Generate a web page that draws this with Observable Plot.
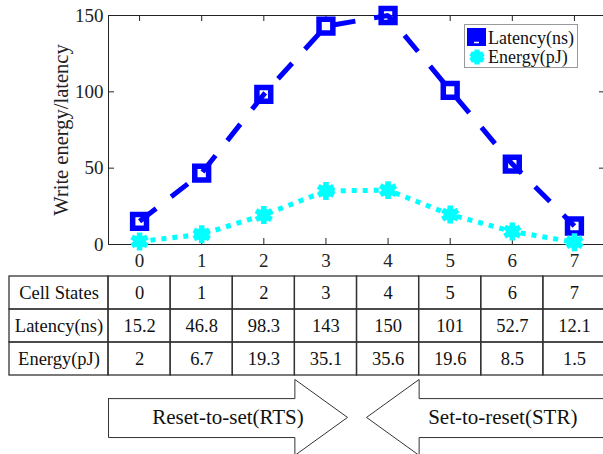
<!DOCTYPE html>
<html>
<head>
<meta charset="utf-8">
<script src="https://cdn.jsdelivr.net/npm/d3@7"></script>
<script src="https://cdn.jsdelivr.net/npm/@observablehq/plot@0.6"></script>
<style>
  html, body { margin: 0; padding: 0; background: white; overflow: hidden; }
  #wrap { position: relative; width: 603px; height: 454px; overflow: hidden; }
  #wrap svg { display: block; }
</style>
</head>
<body>
<div id="wrap">
  <div id="chart"></div>
  <div id="table"></div>
</div>
<script>
// ---- data ----
const states = [0, 1, 2, 3, 4, 5, 6, 7];
const latency = [15.2, 46.8, 98.3, 143, 150, 101, 52.7, 12.1];
const energy = [2, 6.7, 19.3, 35.1, 35.6, 19.6, 8.5, 1.5];
const yTicks = [0, 50, 100, 150];
const rowLabels = ["Cell States", "Latency(ns)", "Energy(pJ)"];
const seriesNames = ["Latency(ns)", "Energy(pJ)"];
const arrowLabels = ["Reset-to-set(RTS)", "Set-to-reset(STR)"];
const yLabel = "Write energy/latency";

const BLUE = "#0000ff";
const CYAN = "#00ffff";
const INK = "#222";
const FONT = "'Liberation Serif', 'Times New Roman', serif";

const latData = states.map((s, i) => ({state: s, value: latency[i]}));
const enData = states.map((s, i) => ({state: s, value: energy[i]}));

// ---- main chart ----
const W = 603, H = 270, mL = 108, mR = -2, mT = 15, mB = 26;
const plotW = W - mL - mR, plotH = H - mT - mB, tickLen = 6;

const chart = Plot.plot({
  width: W, height: H,
  marginLeft: mL, marginRight: mR, marginTop: mT, marginBottom: mB,
  x: {domain: [-0.5, 7.5]},
  y: {domain: [0, 150]},
  style: {fontFamily: FONT, fontSize: "19px", color: INK, background: "white"},
  marks: [
    Plot.frame({stroke: INK, strokeWidth: 1}),
    Plot.ruleX(states, {x: d => d, insetTop: plotH - tickLen, stroke: INK}),
    Plot.ruleX(states, {x: d => d, insetBottom: plotH - tickLen, stroke: INK}),
    Plot.ruleY(yTicks, {y: d => d, insetRight: plotW - tickLen, stroke: INK}),
    Plot.ruleY(yTicks, {y: d => d, insetLeft: plotW - tickLen, stroke: INK}),
    Plot.axisX(states, {tickSize: 0, tickPadding: 9, fontSize: 19, label: null, fill: INK}),
    Plot.axisY(yTicks, {tickSize: 0, tickPadding: 5, fontSize: 19, label: null, fill: INK}),
    Plot.text([yLabel], {frameAnchor: "left", textAnchor: "middle", dx: -47, rotate: -90, fontSize: 20.5, fill: INK}),
    Plot.line(latData, {x: "state", y: "value", stroke: BLUE, strokeWidth: 5, strokeDasharray: "21,19", strokeLinecap: "butt", strokeLinejoin: "miter"}),
    Plot.dot(latData, {x: "state", y: "value", symbol: "square", r: 7.8, stroke: BLUE, strokeWidth: 5.5, fill: "none"}),
    Plot.line(enData, {x: "state", y: "value", stroke: CYAN, strokeWidth: 5, strokeDasharray: "5,6", strokeLinecap: "butt", strokeLinejoin: "miter"}),
    Plot.dot(enData, {x: "state", y: "value", symbol: "asterisk", r: 8.5, stroke: CYAN, strokeWidth: 5.5}),
    Plot.dot(enData, {x: "state", y: "value", r: 6.5, fill: CYAN})
  ]
});
document.getElementById("chart").appendChild(chart);

// ---- legend (overlay) ----
const lg = d3.select("#wrap").append("svg")
  .attr("width", 115).attr("height", 45)
  .style("position", "absolute").style("left", "464px").style("top", "24px");
lg.append("rect").attr("x", 0.5).attr("y", 0.5).attr("width", 113).attr("height", 43)
  .attr("fill", "white").attr("stroke", "#999");
lg.append("rect").attr("x", 3).attr("y", 4).attr("width", 19).attr("height", 18).attr("fill", BLUE);
lg.append("line").attr("x1", 10).attr("x2", 15).attr("y1", 18.5).attr("y2", 18.5)
  .attr("stroke", "white").attr("stroke-width", 1.5);
lg.append("path").attr("transform", "translate(13,33)")
  .attr("d", d3.symbol(d3.symbolAsterisk, Math.PI * 7 * 7)())
  .attr("stroke", CYAN).attr("stroke-width", 5).attr("fill", "none");
lg.append("circle").attr("cx", 13).attr("cy", 33).attr("r", 6.5).attr("fill", CYAN);
seriesNames.forEach((name, i) => {
  lg.append("text").attr("x", 24).attr("y", 20 + i * 19)
    .attr("font-family", FONT).attr("font-size", 18).attr("fill", "#111").text(name);
});

// ---- table + arrows ----
const tableValues = [states.map(String), latency.map(String), energy.map(String)];
const labelLeft = -2.094;
const cells = [];
rowLabels.forEach((lab, r) => {
  cells.push({x1: labelLeft, x2: -0.5, r, text: lab});
  states.forEach((s, i) => cells.push({x1: s - 0.5, x2: s + 0.5, r, text: tableValues[r][i]}));
});

const leftArrow = [[-0.5, 3.70], [2.5, 3.70], [2.5, 3.12], [3.347, 4.27], [2.5, 5.42], [2.5, 4.88], [-0.5, 4.88], [-0.5, 3.70]];
const rightArrow = [[7.8, 3.70], [4.5, 3.70], [4.5, 3.12], [3.653, 4.27], [4.5, 5.42], [4.5, 4.88], [7.8, 4.88], [7.8, 3.70]];
const arrowText = [
  {x: (-0.5 + 3.347) / 2, y: 4.27, text: arrowLabels[0]},
  {x: (3.653 + 7.2) / 2 + 0.42, y: 4.27, text: arrowLabels[1]}
];

const table = Plot.plot({
  width: W, height: 454 - H,
  marginLeft: 9, marginRight: mR, marginTop: 6, marginBottom: 0,
  x: {domain: [labelLeft, 7.5], axis: null},
  y: {domain: [0, 5.394], reverse: true, axis: null},
  style: {fontFamily: FONT, fontSize: "18px", color: INK, background: "white"},
  marks: [
    Plot.rect(cells, {x1: "x1", x2: "x2", y1: "r", y2: d => d.r + 1, fill: "none", stroke: "#333", strokeWidth: 1.3}),
    Plot.text(cells, {x: d => (d.x1 + d.x2) / 2, y: d => d.r + 0.5, text: "text", fontSize: 18.5, fill: "#111"}),
    Plot.line(leftArrow, {x: d => d[0], y: d => d[1], stroke: "#333", strokeWidth: 1, fill: "white", strokeLinejoin: "miter"}),
    Plot.line(rightArrow, {x: d => d[0], y: d => d[1], stroke: "#333", strokeWidth: 1, fill: "white", strokeLinejoin: "miter"}),
    Plot.text(arrowText, {x: "x", y: "y", text: "text", fontSize: 21, fill: "#111"})
  ]
});
document.getElementById("table").appendChild(table);
</script>
</body>
</html>
